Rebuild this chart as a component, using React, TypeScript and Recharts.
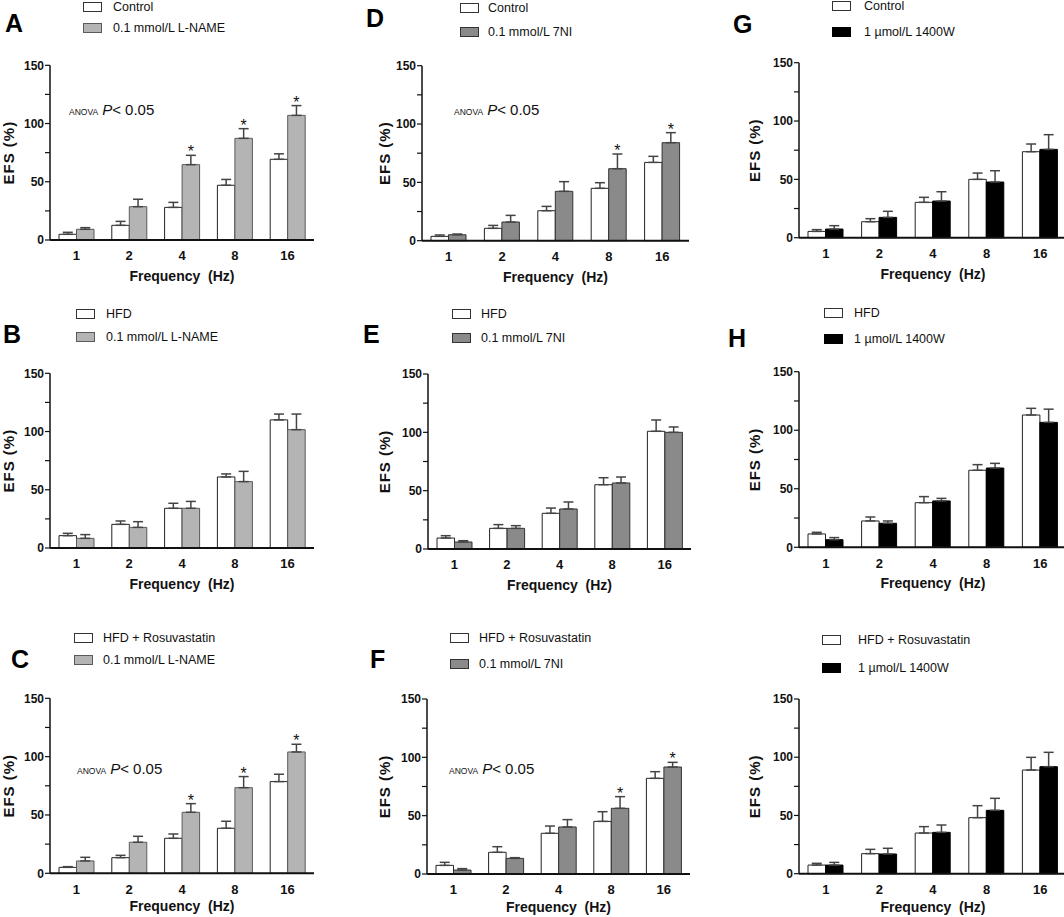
import { BarChart, Bar, XAxis, YAxis, ErrorBar, LabelList, Legend, Label } from 'recharts';

const freqs = ['1', '2', '4', '8', '16'];
const yTicks = [0, 25, 50, 75, 100, 125, 150];
const noStars = ['', '', '', '', ''];

// A: Control vs L-NAME
const aCtrl = [4.9, 12.6, 28, 47, 69.3];
const aCtrlErr = [1.7, 3.4, 4.3, 5, 4.7];
const aDrug = [9.2, 28.6, 64.7, 87.3, 107];
const aDrugErr = [1.4, 6.4, 8, 8.3, 8.4];
const aStars = ['', '', '*', '*', '*'];

// B: HFD vs L-NAME
const bCtrl = [10.6, 20.3, 34.1, 61, 110];
const bCtrlErr = [2, 2.9, 4.3, 2.6, 5];
const bDrug = [8.3, 17.7, 34.1, 57, 101.6];
const bDrugErr = [3.2, 4.9, 5.9, 8.8, 13.4];

// C: HFD + Rosuvastatin vs L-NAME
const cCtrl = [5.1, 13.4, 30, 38.6, 78.6];
const cCtrlErr = [0.6, 2, 3.7, 6, 6.3];
const cDrug = [10.6, 26.6, 52.3, 73.4, 104];
const cDrugErr = [3.1, 5.1, 7.4, 9.5, 6.6];
const cStars = ['', '', '*', '*', '*'];

// D: Control vs 7NI
const dCtrl = [3.7, 10.6, 25.7, 44.9, 67.1];
const dCtrlErr = [1.2, 2.5, 3.7, 4.8, 5.2];
const dDrug = [5.1, 16, 42.3, 61.7, 84];
const dDrugErr = [0.6, 5.7, 8.3, 12.6, 8.6];
const dStars = ['', '', '', '*', '*'];

// E: HFD vs 7NI
const eCtrl = [9.4, 17.7, 30.6, 55.1, 100.9];
const eCtrlErr = [2, 3.2, 4.5, 6, 9.7];
const eDrug = [6, 17.7, 34.3, 56.6, 100];
const eDrugErr = [1.1, 2.3, 6, 5.1, 4.6];

// F: HFD + Rosuvastatin vs 7NI
const fCtrl = [7.4, 18.6, 34.9, 45.1, 82];
const fCtrlErr = [2.6, 4.8, 6.2, 8.3, 5.7];
const fDrug = [3.4, 13.4, 40.3, 56.3, 91.7];
const fDrugErr = [1.2, 0.6, 6.3, 10, 4];
const fStars = ['', '', '', '*', '*'];

// G: Control vs 1400W
const gCtrl = [5.4, 13.7, 30.3, 50, 73.7];
const gCtrlErr = [1.5, 2.6, 4.3, 5.4, 6.6];
const gDrug = [7.4, 17.4, 31.4, 47.7, 75.7];
const gDrugErr = [2.9, 5.2, 8, 9.7, 12.6];

// H: HFD vs 1400W
const hCtrl = [11.4, 22.5, 38.1, 65.8, 113];
const hCtrlErr = [1.4, 3.4, 5.2, 4.8, 5.7];
const hDrug = [6.5, 20.5, 39.6, 67.7, 106.7];
const hDrugErr = [1.8, 2, 2.2, 4, 11.3];

// unlabelled: HFD + Rosuvastatin vs 1400W
const iCtrl = [7.4, 17.2, 34.9, 48.1, 89];
const iCtrlErr = [1.5, 3.7, 5.5, 10.3, 10.9];
const iDrug = [7.4, 16.9, 35.5, 54.4, 91.9];
const iDrugErr = [2.3, 4.9, 6.3, 10.3, 12.3];

const FONT = '"Liberation Sans", Arial, Helvetica, sans-serif';

const LNAME = { fill: '#b4b4b4', stroke: '#5a5a5a' };
const SEVEN_NI = { fill: '#8a8a8a', stroke: '#333333' };
const W1400 = { fill: '#000000', stroke: '#000000' };
const WHITE = { fill: '#ffffff', stroke: '#222222' };

const buildRows = (ctrl, ctrlErr, drug, drugErr, stars) =>
  freqs.map((f, i) => ({
    freq: f,
    ctrl: ctrl[i],
    ctrlErr: [0, ctrlErr[i]],
    drug: drug[i],
    drugErr: [0, drugErr[i]],
    star: stars[i],
  }));

const panels = [
  {
    letter: 'A', left: 0, top: 0, ctrlName: 'Control', drugName: '0.1 mmol/L L-NAME', look: LNAME,
    rows: buildRows(aCtrl, aCtrlErr, aDrug, aDrugErr, aStars),
    axisX: 50, axisEnd: 314, yTop: 65.3, yZero: 240, titleOff: 9, xTitleOff: 9,
    leg: { c0: 7.3, c1: 28.3, sq: 83, tx: 113 }, letterAt: [5, 32], anovaAt: [69, 115],
  },
  {
    letter: 'B', left: 0, top: 300, ctrlName: 'HFD', drugName: '0.1 mmol/L L-NAME', look: LNAME,
    rows: buildRows(bCtrl, bCtrlErr, bDrug, bDrugErr, noStars),
    axisX: 50, axisEnd: 314, yTop: 373.3, yZero: 548, titleOff: 9, xTitleOff: 9,
    leg: { c0: 14, c1: 37, sq: 76, tx: 106 }, letterAt: [3, 343], anovaAt: null,
  },
  {
    letter: 'C', left: 0, top: 615, ctrlName: 'HFD + Rosuvastatin', drugName: '0.1 mmol/L L-NAME', look: LNAME,
    rows: buildRows(cCtrl, cCtrlErr, cDrug, cDrugErr, cStars),
    axisX: 50, axisEnd: 314, yTop: 698.3, yZero: 873.3, titleOff: 9, xTitleOff: 12,
    leg: { c0: 23, c1: 45, sq: 74, tx: 103 }, letterAt: [11, 668], anovaAt: [77, 774],
  },
  {
    letter: 'D', left: 355, top: 0, ctrlName: 'Control', drugName: '0.1 mmol/L 7NI', look: SEVEN_NI,
    rows: buildRows(dCtrl, dCtrlErr, dDrug, dDrugErr, dStars),
    axisX: 422, axisEnd: 689, yTop: 65.7, yZero: 240.7, titleOff: 13, xTitleOff: 9,
    leg: { c0: 8.3, c1: 32.3, sq: 105, tx: 133 }, letterAt: [366, 27], anovaAt: [454, 115],
  },
  {
    letter: 'E', left: 355, top: 300, ctrlName: 'HFD', drugName: '0.1 mmol/L 7NI', look: SEVEN_NI,
    rows: buildRows(eCtrl, eCtrlErr, eDrug, eDrugErr, noStars),
    axisX: 428, axisEnd: 691, yTop: 374, yZero: 549, titleOff: 7, xTitleOff: 9,
    leg: { c0: 14, c1: 38, sq: 97, tx: 126 }, letterAt: [363, 343], anovaAt: null,
  },
  {
    letter: 'F', left: 355, top: 615, ctrlName: 'HFD + Rosuvastatin', drugName: '0.1 mmol/L 7NI', look: SEVEN_NI,
    rows: buildRows(fCtrl, fCtrlErr, fDrug, fDrugErr, fStars),
    axisX: 427, axisEnd: 690, yTop: 699, yZero: 874, titleOff: 8, xTitleOff: 12,
    leg: { c0: 23, c1: 49, sq: 95, tx: 124 }, letterAt: [370, 668], anovaAt: [449, 774],
  },
  {
    letter: 'G', left: 712, top: 0, ctrlName: 'Control', drugName: '1 \u00b5mol/L 1400W', look: W1400,
    rows: buildRows(gCtrl, gCtrlErr, gDrug, gDrugErr, noStars),
    axisX: 799, axisEnd: 1067, yTop: 62.7, yZero: 237.7, titleOff: 6, xTitleOff: 9,
    leg: { c0: 6, c1: 31.7, sq: 120, tx: 152 }, letterAt: [733, 33], anovaAt: null,
  },
  {
    letter: 'H', left: 712, top: 300, ctrlName: 'HFD', drugName: '1 \u00b5mol/L 1400W', look: W1400,
    rows: buildRows(hCtrl, hCtrlErr, hDrug, hDrugErr, noStars),
    axisX: 799, axisEnd: 1067, yTop: 371.7, yZero: 547.3, titleOff: 6, xTitleOff: 9,
    leg: { c0: 13, c1: 39, sq: 112, tx: 142 }, letterAt: [728, 347], anovaAt: null,
  },
  {
    letter: '', left: 712, top: 615, ctrlName: 'HFD + Rosuvastatin', drugName: '1 \u00b5mol/L 1400W', look: W1400,
    rows: buildRows(iCtrl, iCtrlErr, iDrug, iDrugErr, noStars),
    axisX: 799, axisEnd: 1067, yTop: 699, yZero: 873.7, titleOff: 6, xTitleOff: 12,
    leg: { c0: 25, c1: 53, sq: 110, tx: 146 }, letterAt: null, anovaAt: null,
  },
];

// star sits just above the error bar cap, using the bar's own pixel scale
const starLabel = (rows) => (props) => {
  const { index, value } = props;
  if (!value) return null;
  const vb = props.viewBox || props;
  const row = rows[index];
  if (!row || !vb) return null;
  const h = Math.abs(vb.height);
  const top = Math.min(vb.y, vb.y + vb.height);
  const pxPerUnit = h / row.drug;
  const capY = top - row.drugErr[1] * pxPerUnit;
  return (
    <text x={vb.x + vb.width / 2} y={capY + 2} textAnchor="middle" fontSize={16} fontFamily={FONT} fill="#111">
      {value}
    </text>
  );
};

const legendContent = (p) => (props) => {
  const payload = props.payload || [];
  const ordered = ['ctrl', 'drug'].map((k) => payload.find((e) => e.dataKey === k)).filter(Boolean);
  const looks = [WHITE, p.look];
  const centers = [p.leg.c0, p.leg.c1];
  return (
    <div style={{ position: 'relative', fontFamily: FONT, fontSize: 12.5, color: '#111' }}>
      {ordered.map((entry, i) => (
        <div
          key={i}
          style={{
            position: 'absolute', left: 0, top: centers[i] - centers[0], height: 16,
            display: 'flex', alignItems: 'center', whiteSpace: 'nowrap',
          }}
        >
          <div
            style={{
              width: 19, height: 10, boxSizing: 'border-box',
              background: looks[i].fill, border: `1px solid ${i === 0 ? '#333' : looks[i].stroke}`,
            }}
          />
          <span style={{ marginLeft: p.leg.tx - p.leg.sq - 19 }}>{entry.value}</span>
        </div>
      ))}
    </div>
  );
};

const Panel = ({ p }) => {
  const yAxisW = 50;
  const margin = { top: p.yTop - p.top, right: 5, left: p.axisX - p.left - yAxisW, bottom: 0 };
  const width = p.axisEnd - p.left + margin.right;
  const height = p.yZero - p.top + 50;
  return (
    <div style={{ position: 'absolute', left: p.left, top: p.top }}>
      <BarChart width={width} height={height} data={p.rows} margin={margin} barGap={0}>
        <XAxis
          dataKey="freq"
          tickLine={false}
          tickSize={6}
          tickMargin={5}
          height={50}
          interval={0}
          axisLine={{ stroke: '#111', strokeWidth: 2 }}
          tick={{ fontSize: 13, fontWeight: 'bold', fill: '#111', fontFamily: FONT }}
        >
          <Label
            value={'Frequency\u00a0 (Hz)'}
            position="insideBottom"
            offset={p.xTitleOff}
            style={{ fontSize: 14, fontWeight: 'bold', fill: '#111', fontFamily: FONT }}
          />
        </XAxis>
        <YAxis
          domain={[0, 150]}
          ticks={yTicks}
          interval={0}
          width={yAxisW}
          tickSize={5}
          tickMargin={1}
          tickFormatter={(v) => (v % 50 === 0 ? String(v) : '')}
          axisLine={{ stroke: '#111', strokeWidth: 1.5 }}
          tickLine={{ stroke: '#111', strokeWidth: 1.2 }}
          tick={{ fontSize: 12, fontWeight: 'bold', fill: '#111', fontFamily: FONT }}
        >
          <Label
            value="EFS (%)"
            angle={-90}
            position="insideLeft"
            offset={p.titleOff}
            style={{ textAnchor: 'middle', fontSize: 15, letterSpacing: 1, fontWeight: 'bold', fill: '#111', fontFamily: FONT }}
          />
        </YAxis>
        <Legend
          layout="vertical"
          align="center"
          verticalAlign="middle"
          content={legendContent(p)}
          wrapperStyle={{ top: p.leg.c0 - 8, left: p.leg.sq, width: 260, height: 1 }}
        />
        <Bar dataKey="ctrl" name={p.ctrlName} fill={WHITE.fill} stroke={WHITE.stroke} strokeWidth={1} barSize={17.5} isAnimationActive={false}>
          <ErrorBar dataKey="ctrlErr" width={5} stroke="#444" strokeWidth={1.5} direction="y" isAnimationActive={false} />
        </Bar>
        <Bar dataKey="drug" name={p.drugName} fill={p.look.fill} stroke={p.look.stroke} strokeWidth={1} barSize={17.5} isAnimationActive={false}>
          <ErrorBar dataKey="drugErr" width={5} stroke="#444" strokeWidth={1.5} direction="y" isAnimationActive={false} />
          <LabelList dataKey="star" content={starLabel(p.rows)} />
        </Bar>
      </BarChart>
    </div>
  );
};

export default function App() {
  return (
    <div style={{ position: 'absolute', left: 0, top: 0, width: 1064, height: 917, overflow: 'hidden', background: '#fff' }}>
      {panels.map((p, i) => (
        <Panel key={i} p={p} />
      ))}
      <svg width={1064} height={917} style={{ position: 'absolute', left: 0, top: 0, pointerEvents: 'none' }}>
        {panels.map((p, i) =>
          p.letterAt ? (
            <text key={`l${i}`} x={p.letterAt[0]} y={p.letterAt[1]} fontSize={25} fontWeight="bold" fontFamily={FONT} fill="#000">
              {p.letter}
            </text>
          ) : null
        )}
        {panels.map((p, i) =>
          p.anovaAt ? (
            <text key={`a${i}`} x={p.anovaAt[0]} y={p.anovaAt[1]} fontFamily={FONT} fill="#111">
              <tspan fontSize={8.5}>ANOVA</tspan>
              <tspan fontSize={15} fontStyle="italic" dx={4}>P</tspan>
              <tspan fontSize={15}>{'< 0.05'}</tspan>
            </text>
          ) : null
        )}
      </svg>
    </div>
  );
}
